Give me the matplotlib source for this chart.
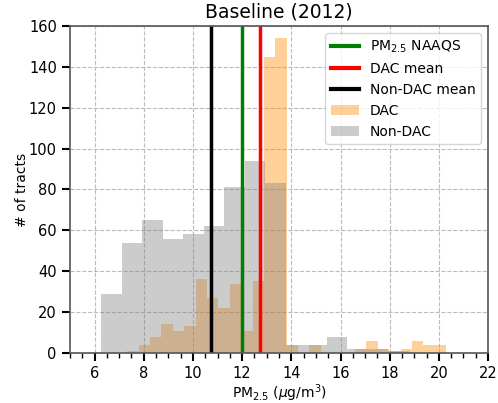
import matplotlib
matplotlib.use("Agg")
import matplotlib.pyplot as plt
import numpy as np
from matplotlib.lines import Line2D
from matplotlib.patches import Patch
from matplotlib.ticker import MultipleLocator


# census tract counts per PM2.5 bin (ug/m3)
dac_bin_start = 7.33
dac_bin_width = 0.463
dac_counts = [1, 4, 8, 14, 11, 13, 36, 27, 22, 34, 11, 35, 145, 154,
              4, 0, 4, 0, 0, 0, 2, 6, 2, 1, 2, 6, 4, 4]

nondac_bin_start = 6.27
nondac_bin_width = 0.834
nondac_counts = [29, 54, 65, 56, 58, 62, 81, 94, 83, 4, 4, 8, 2, 2, 1]

naaqs = 12.0
dac_mean = 12.73
nondac_mean = 10.75

x_ticks = [6, 8, 10, 12, 14, 16, 18, 20, 22]
y_ticks = [0, 20, 40, 60, 80, 100, 120, 140, 160]


def bin_edges(start, width, counts):
    return start + width * np.arange(len(counts) + 1)


fig = plt.figure(figsize=(4.98, 4.03), dpi=100)
ax = fig.add_axes([0.1406, 0.124, 0.8394, 0.8116])

edges = bin_edges(dac_bin_start, dac_bin_width, dac_counts)
ax.hist(edges[:-1], bins=edges, weights=dac_counts, color="darkorange", alpha=0.4)
edges = bin_edges(nondac_bin_start, nondac_bin_width, nondac_counts)
ax.hist(edges[:-1], bins=edges, weights=nondac_counts, color="gray", alpha=0.4)

ax.axvline(naaqs, color="green", lw=2.5)
ax.axvline(dac_mean, color="red", lw=2.5)
ax.axvline(nondac_mean, color="black", lw=2.5)

ax.set_xlim(5, 22)
ax.set_ylim(0, 160)
ax.set_xticks(x_ticks)
ax.set_yticks(y_ticks)
ax.xaxis.set_minor_locator(MultipleLocator(0.5))
ax.tick_params(which="major", length=6, width=1.5, labelsize=10.5)
ax.tick_params(which="minor", length=3.5, width=1)
ax.grid(True, which="major", ls="--", color="#bbbbbb", lw=0.8)
ax.set_axisbelow(True)
for spine in ax.spines.values():
    spine.set_color("#555555")
    spine.set_linewidth(1.2)

ax.set_title("Baseline (2012)", fontsize=13.5)
ax.set_xlabel(r"PM$_{2.5}$ ($\mu$g/m$^3$)", fontsize=10, labelpad=0.5)
ax.set_ylabel("# of tracts", fontsize=10, labelpad=0)

handles = [
    Line2D([], [], color="green", lw=3),
    Line2D([], [], color="red", lw=3),
    Line2D([], [], color="black", lw=3),
    Patch(facecolor="darkorange", alpha=0.4),
    Patch(facecolor="gray", alpha=0.4),
]
labels = [r"PM$_{2.5}$ NAAQS", "DAC mean", "Non-DAC mean", "DAC", "Non-DAC"]
ax.legend(handles, labels, loc="upper right", fontsize=10)

fig.savefig("out.png", dpi=100)
